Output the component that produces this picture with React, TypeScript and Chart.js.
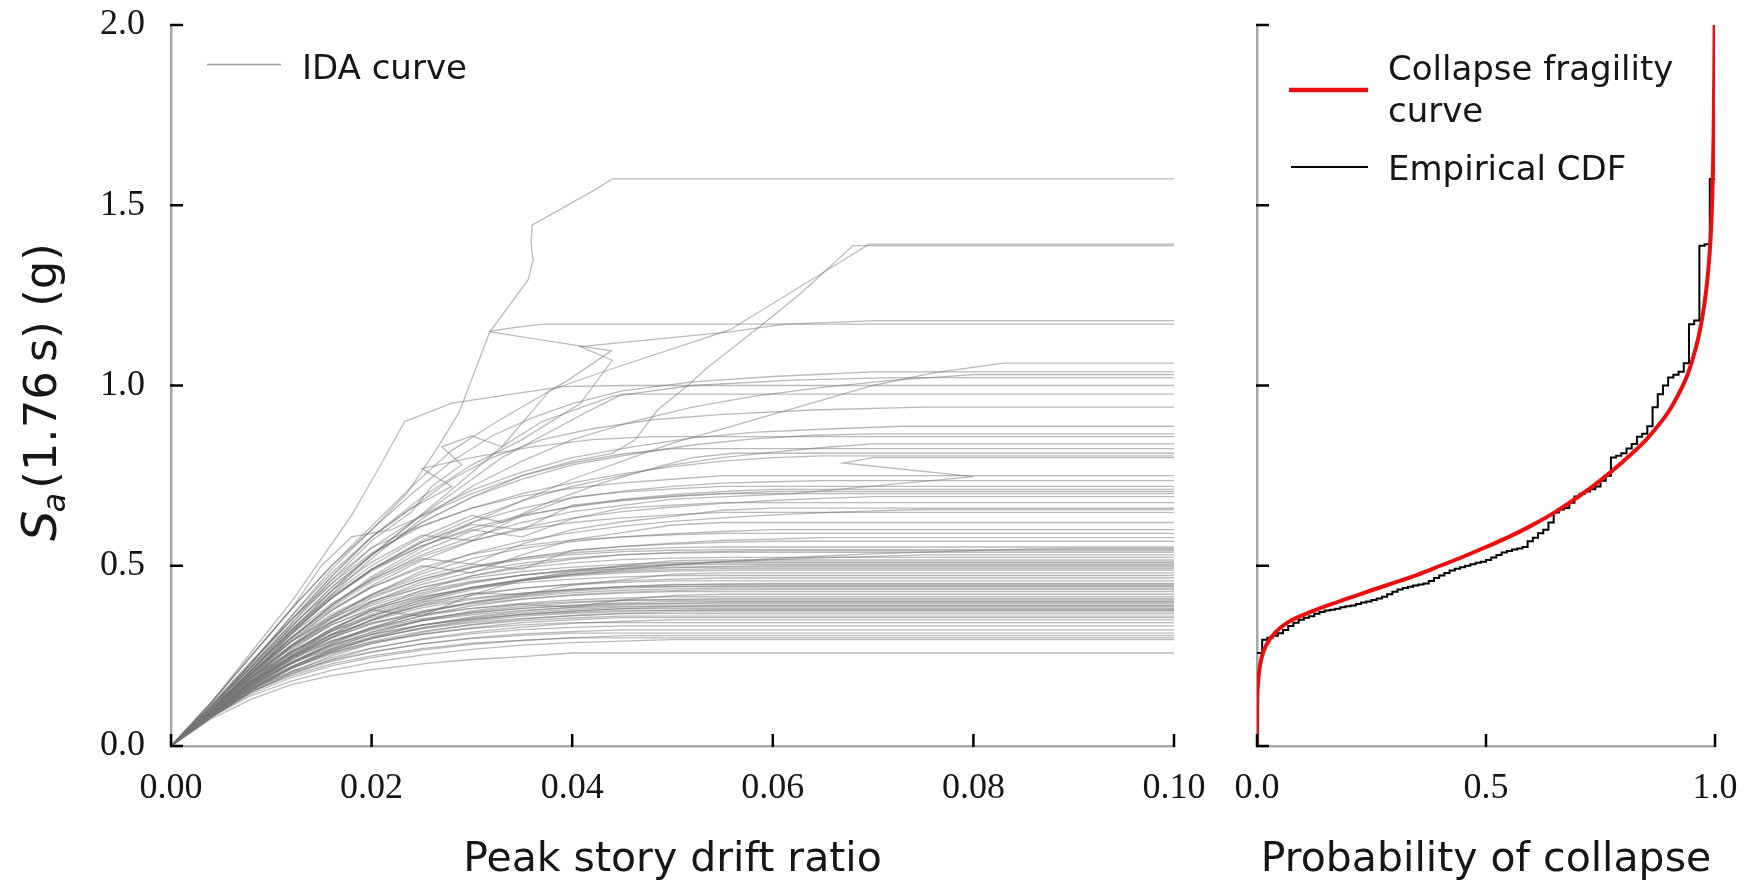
import React, { useEffect, useRef } from "react";
import { Chart, registerables } from "chart.js";

Chart.register(...registerables);

// ---------- tick labels ----------
const X_TICKS_DRIFT = [0, 0.02, 0.04, 0.06, 0.08, 0.1];
const Y_TICKS_SA = [0, 0.5, 1.0, 1.5, 2.0];
const X_TICKS_PROB = [0, 0.5, 1.0];

// ---------- collapse capacities (Sa at collapse, g), sorted ascending ----------
const CAPACITY = [
  0.258, 0.295, 0.3, 0.306, 0.313, 0.322, 0.333, 0.342, 0.35, 0.356,
  0.36, 0.367, 0.372, 0.376, 0.378, 0.381, 0.385, 0.388, 0.39, 0.394,
  0.398, 0.401, 0.405, 0.409, 0.414, 0.421, 0.428, 0.434, 0.438, 0.442,
  0.445, 0.448, 0.451, 0.458, 0.466, 0.473, 0.48, 0.487, 0.492, 0.496,
  0.5, 0.504, 0.508, 0.511, 0.516, 0.523, 0.53, 0.537, 0.541, 0.545,
  0.548, 0.552, 0.568, 0.578, 0.59, 0.6, 0.62, 0.648, 0.656, 0.66,
  0.675, 0.692, 0.7, 0.706, 0.712, 0.72, 0.736, 0.75, 0.8, 0.805,
  0.812, 0.825, 0.838, 0.858, 0.866, 0.887, 0.94, 0.976, 1.0, 1.022,
  1.03, 1.038, 1.062, 1.17, 1.18, 1.388, 1.392, 1.573,
];

// ---------- IDA curves, lower records: Sa at the drift grid, before collapse ----------
const DRIFT_GRID = [0, 0.004, 0.008, 0.012, 0.016, 0.02, 0.025, 0.03, 0.035, 0.04, 0.045, 0.05, 0.055, 0.06, 0.065, 0.07, 0.075, 0.08, 0.085, 0.09];

const IDA_GRID_SA = [
  [0, .075, .13, .17, .195, .212, .228, .24, .248],
  [0, .08, .14, .18, .21, .232, .252, .268, .28, .287, .291],
  [0, .085, .15, .195, .228, .25, .27, .285, .293],
  [0, .08, .145, .19, .222, .245, .266, .282, .293, .3],
  [0, .09, .16, .205, .238, .262, .283, .298, .307],
  [0, .08, .15, .2, .235, .26, .283, .3, .311, .317],
  [0, .085, .155, .208, .245, .272, .295, .312, .323, .329],
  [0, .09, .165, .22, .26, .288, .31, .326, .336],
  [0, .08, .15, .2, .24, .27, .297, .316, .33, .34, .346],
  [0, .09, .16, .215, .255, .285, .31, .328, .342, .35],
  [0, .085, .16, .215, .258, .29, .318, .336, .348, .355],
  [0, .09, .17, .23, .27, .3, .325, .342, .354, .361],
  [0, .08, .15, .205, .25, .283, .315, .337, .352, .362, .368],
  [0, .095, .175, .235, .28, .31, .336, .352, .364, .371],
  [0, .085, .16, .22, .265, .298, .327, .346, .36, .368, .373, .376],
  [0, .09, .17, .23, .275, .308, .335, .353, .366, .374],
  [0, .08, .155, .215, .262, .297, .328, .35, .365, .375, .381],
  [0, .09, .175, .24, .29, .322, .348, .364, .376, .383],
  [0, .085, .16, .22, .268, .303, .335, .356, .37, .379, .385, .388],
  [0, .095, .18, .245, .293, .326, .353, .37, .382, .389],
  [0, .08, .155, .215, .264, .3, .335, .358, .374, .385, .392, .396],
  [0, .09, .17, .232, .28, .316, .347, .368, .382, .391, .397],
  [0, .1, .19, .26, .31, .342, .366, .382, .393, .4],
  [0, .085, .165, .228, .278, .316, .35, .372, .387, .397, .403, .407],
  [0, .09, .175, .24, .29, .328, .36, .382, .396, .405, .411],
  [0, .08, .155, .218, .27, .31, .348, .375, .393, .385, .405, .418],
  [0, .095, .18, .248, .3, .338, .372, .394, .408, .418, .424],
  [0, .085, .165, .23, .283, .324, .362, .389, .407, .419, .427, .431],
  [0, .09, .175, .245, .3, .34, .375, .398, .414, .425, .432, .436],
  [0, .1, .19, .262, .318, .356, .389, .41, .424, .434],
  [0, .085, .165, .232, .287, .33, .37, .398, .417, .43, .438, .442, .444],
  [0, .09, .18, .252, .308, .348, .383, .407, .423, .435, .442],
  [0, .08, .16, .228, .284, .328, .37, .4, .42, .433, .442, .447, .45],
  [0, .095, .185, .26, .32, .362, .398, .422, .438, .448, .454],
  [0, .09, .175, .248, .306, .35, .39, .418, .437, .45, .458, .463],
  [0, .1, .195, .275, .336, .38, .415, .438, .453, .463, .469],
  [0, .085, .17, .243, .303, .35, .393, .424, .42, .446, .461, .477],
  [0, .095, .185, .262, .325, .372, .412, .44, .459, .472, .48, .485],
  [0, .09, .178, .255, .318, .366, .41, .44, .461, .475, .484, .489],
  [0, .1, .2, .28, .343, .39, .43, .457, .474, .485, .492],
  [0, .085, .17, .245, .31, .36, .405, .437, .46, .476, .487, .494, .498],
  [0, .095, .19, .27, .335, .383, .425, .454, .474, .488, .497, .502],
  [0, .09, .18, .26, .325, .376, .42, .452, .474, .489, .499, .505],
  [0, .105, .205, .29, .355, .402, .44, .466, .484, .496, .504, .509],
  [0, .09, .178, .258, .325, .378, .36, .42, .46, .484, .5, .514],
  [0, .1, .195, .278, .345, .395, .44, .472, .494, .508, .517, .521],
  [0, .09, .175, .25, .31, .36, .405, .44, .463, .48, .493, .503, .511, .517, .522, .526],
  [0, .095, .19, .275, .345, .4, .448, .483, .507, .522, .531, .535],
  [0, .085, .17, .25, .32, .378, .432, .472, .5, .518, .53, .537, .54],
  [0, .1, .2, .29, .36, .415, .462, .495, .517, .531, .539, .543],
  [0, .085, .165, .24, .3, .35, .4, .433, .458, .476, .49, .502, .512, .52, .527, .533, .538, .542, .546],
  [0, .095, .19, .278, .352, .41, .462, .498, .521, .536, .545, .55],
  [0, .1, .2, .29, .365, .42, .47, .505, .49, .543, .553, .56, .565],
  [0, .09, .18, .265, .34, .4, .455, .495, .522, .541, .554, .563, .57, .574],
  [0, .1, .205, .3, .38, .44, .495, .532, .556, .571, .58, .586],
  [0, .095, .19, .28, .36, .42, .478, .52, .548, .567, .58, .589, .595],
  [0, .1, .2, .295, .375, .44, .5, .48, .53, .572, .592, .613],
  [0, .105, .21, .31, .395, .462, .525, .57, .6, .62, .633, .641],
  [0, .09, .185, .275, .355, .42, .485, .534, .568, .592, .61, .623, .633, .641, .647, .652],
  [0, .1, .205, .3, .385, .455, .52, .505, .56, .6, .622, .637, .654],
  [0, .11, .22, .325, .415, .49, .555, .6, .58, .63, .66, .668],
  [0, .095, .195, .29, .375, .445, .515, .568, .605, .632, .65, .663, .673, .681, .687],
  [0, .1, .21, .315, .41, .49, .565, .615, .6, .668, .683, .693],
  [0, .105, .215, .32, .41, .485, .555, .605, .64, .664, .68, .692, .7],
  [0, .1, .2, .3, .39, .465, .54, .597, .637, .665, .684, .697, .706],
  [0, .11, .225, .335, .43, .51, .585, .57, .64, .69, .704, .713],
  [0, .1, .21, .315, .41, .49, .565, .62, .66, .688, .707, .72, .729, .733],
  [0, .115, .235, .35, .45, .535, .61, .66, .693, .715, .73, .74],
];

// ---------- IDA curves, upper records: explicit (drift, Sa) pairs up to collapse ----------
const IDA_TOP_PATHS = [
  [0, 0, .004, .1, .008, .2, .012, .3, .016, .39, .02, .46, .025, .53, .03, .58, .035, .62, .04, .65, .05, .685, .062, .7, .08, .747, .067, .785, .07, .8],
  [0, 0, .004, .11, .008, .23, .012, .35, .016, .46, .02, .55, .024, .6, .027, .63, .03, .66, .035, .7, .04, .73, .045, .755, .05, .775, .055, .79, .06, .8, .065, .805],
  [0, 0, .004, .1, .008, .21, .012, .32, .016, .42, .02, .5, .025, .58, .03, .64, .033, .62, .038, .68, .043, .73, .048, .77, .052, .8, .056, .812],
  [0, 0, .004, .12, .008, .25, .012, .38, .015, .5, .018, .58, .022, .6, .026, .65, .03, .7, .035, .75, .04, .785, .045, .81, .05, .825],
  [0, 0, .004, .1, .008, .2, .012, .31, .016, .41, .02, .49, .025, .57, .03, .63, .035, .68, .04, .72, .045, .75, .05, .78, .055, .8, .06, .815, .065, .828, .07, .838],
  [0, 0, .004, .11, .008, .23, .012, .36, .016, .48, .02, .58, .024, .66, .028, .72, .025, .77, .03, .8, .036, .83, .042, .85, .048, .858],
  [0, 0, .004, .1, .008, .21, .012, .33, .016, .44, .02, .53, .025, .62, .03, .69, .035, .74, .04, .78, .046, .81, .052, .835, .058, .852, .064, .862, .07, .866],
  [0, 0, .004, .105, .008, .22, .012, .34, .016, .45, .02, .55, .025, .64, .03, .71, .035, .76, .04, .8, .046, .83, .052, .855, .058, .87, .066, .88, .073, .887],
  [0, 0, .004, .11, .008, .23, .012, .35, .016, .47, .02, .58, .024, .66, .028, .74, .032, .8, .037, .85, .042, .88, .048, .905, .055, .92, .064, .932, .075, .94],
  [0, 0, .004, .1, .008, .21, .012, .32, .016, .43, .02, .53, .025, .64, .029, .72, .033, .8, .037, .86, .041, .92, .045, .976],
  [0, 0, .004, .12, .008, .26, .012, .4, .015, .52, .018, .64, .0205, .76, .0233, .9, .028, .951, .039, .997, .045, 1.0],
  [0, 0, .004, .11, .008, .22, .012, .34, .016, .46, .02, .57, .024, .65, .026, .72, .029, .78, .027, .83, .03, .86, .033, .83, .037, .9, .044, .97, .052, 1.0, .062, 1.015, .072, 1.022],
  [0, 0, .004, .1, .008, .2, .012, .31, .016, .42, .02, .52, .025, .63, .03, .72, .035, .79, .04, .85, .046, .9, .052, .94, .058, .97, .065, .995, .072, 1.015, .08, 1.03],
  [0, 0, .004, .11, .008, .23, .012, .36, .016, .49, .02, .6, .024, .7, .028, .79, .032, .86, .036, .91, .04, .95, .045, .985, .052, 1.01, .06, 1.025, .07, 1.038],
  [0, 0, .004, .1, .008, .2, .012, .3, .016, .39, .02, .47, .025, .55, .03, .62, .035, .68, .04, .74, .045, .79, .05, .84, .055, .88, .06, .92, .065, .96, .07, 1.0, .076, 1.035, .083, 1.062],
  [0, 0, .004, .12, .008, .25, .012, .38, .016, .5, .02, .6, .0235, .7, .0264, .82, .0287, .924, .0318, 1.15, .034, 1.16, .037, 1.17],
  [0, 0, .004, .11, .008, .23, .012, .35, .016, .47, .02, .58, .025, .69, .03, .78, .035, .85, .0408, .95, .044, 1.07, .0408, 1.108, .0557, 1.149, .0612, 1.17, .0703, 1.18],
  [0, 0, .004, .11, .008, .22, .012, .33, .016, .44, .02, .53, .025, .62, .03, .69, .035, .75, .04, .79, .044, .812, .0463, .85, .0485, .932, .0514, .997, .0534, 1.048, .0589, 1.168, .0628, 1.256, .068, 1.388],
  [0, 0, .004, .1, .008, .21, .012, .32, .016, .43, .02, .53, .0275, .7, .033, .83, .0378, .987, .0436, 1.043, .0557, 1.154, .066, 1.33, .0696, 1.392],
  [0, 0, .004, .12, .008, .25, .012, .38, .016, .5, .02, .61, .024, .72, .028, .82, .0325, .9, .0396, 1.015, .0439, 1.096, .0318, 1.149, .0356, 1.293, .0361, 1.348, .0359, 1.394, .036, 1.445, .0422, 1.542, .044, 1.573],
];

// ---------- collapse fragility curve (probability, Sa) ----------
const FRAGILITY_P = [0, 0.0003, 0.0015, 0.005, 0.01, 0.02, 0.04, 0.07, 0.1, 0.15, 0.2, 0.25, 0.3, 0.35, 0.4, 0.45, 0.5, 0.55, 0.6, 0.65, 0.7, 0.75, 0.8, 0.85, 0.88, 0.9, 0.92, 0.94, 0.955, 0.965, 0.975, 0.983, 0.99, 0.994, 0.997, 0.9985, 0.9995];
const FRAGILITY_SA = [0, 0.1, 0.16, 0.21, 0.245, 0.28, 0.315, 0.345, 0.363, 0.388, 0.41, 0.432, 0.453, 0.475, 0.5, 0.525, 0.552, 0.58, 0.612, 0.648, 0.69, 0.737, 0.79, 0.85, 0.895, 0.93, 0.975, 1.03, 1.09, 1.14, 1.21, 1.29, 1.4, 1.52, 1.7, 1.88, 2.05];

// ---------- styling ----------
const SANS = '"DejaVu Sans", sans-serif';
const SERIF = '"Liberation Serif", serif';
const TEXT = "#161616";
const AXIS_GRAY = "#a8a8a8";
const IDA_COLOR = "rgba(118,118,118,0.5)";
const RED = "rgb(234,14,14)";

const LEFT_W = 1216;
const RIGHT_W = 535;
const H = 886;

function drawInwardTicks(chart: any, xTicks: number[], yTicks: number[]) {
  const { ctx, chartArea, scales } = chart;
  ctx.save();
  ctx.strokeStyle = "#000";
  ctx.lineWidth = 2.5;
  ctx.beginPath();
  for (const v of xTicks) {
    const px = scales.x.getPixelForValue(v);
    ctx.moveTo(px, chartArea.bottom + 1);
    ctx.lineTo(px, chartArea.bottom - 12);
  }
  for (const v of yTicks) {
    const py = scales.y.getPixelForValue(v);
    ctx.moveTo(chartArea.left - 1, py);
    ctx.lineTo(chartArea.left + 12, py);
  }
  ctx.stroke();
  ctx.restore();
}

const leftDecor = {
  id: "leftDecor",
  afterDraw(chart: any) {
    const { ctx } = chart;
    drawInwardTicks(chart, X_TICKS_DRIFT, Y_TICKS_SA);
    ctx.save();
    // legend
    ctx.strokeStyle = "rgba(150,150,150,0.9)";
    ctx.lineWidth = 1.4;
    ctx.beginPath();
    ctx.moveTo(207, 64.5);
    ctx.lineTo(281, 64.5);
    ctx.stroke();
    ctx.fillStyle = TEXT;
    ctx.font = `34px ${SANS}`;
    ctx.textBaseline = "alphabetic";
    ctx.textAlign = "left";
    ctx.fillText("IDA curve", 302, 79);
    // y title: S_a(1.76 s) (g)
    const big = `45px ${SANS}`;
    const ital = `italic 48px ${SANS}`;
    const sub = `italic 32px ${SANS}`;
    const rest = "(1.76\u2009s) (g)";
    ctx.font = ital;
    const wS = ctx.measureText("S").width;
    ctx.font = sub;
    const wa = ctx.measureText("a").width;
    ctx.font = big;
    const wr = ctx.measureText(rest).width;
    const total = wS + wa + 2 + wr;
    ctx.translate(56, 392);
    ctx.rotate(-Math.PI / 2);
    let x = -total / 2;
    ctx.font = ital;
    ctx.fillText("S", x, 0);
    x += wS;
    ctx.font = sub;
    ctx.fillText("a", x - 2, 9);
    x += wa + 2;
    ctx.font = big;
    ctx.fillText(rest, x, 0);
    ctx.restore();
  },
};

const rightDecor = {
  id: "rightDecor",
  afterDraw(chart: any) {
    const { ctx } = chart;
    drawInwardTicks(chart, X_TICKS_PROB, Y_TICKS_SA);
    ctx.save();
    ctx.strokeStyle = RED;
    ctx.lineWidth = 4.5;
    ctx.beginPath();
    ctx.moveTo(73, 90);
    ctx.lineTo(152, 90);
    ctx.stroke();
    ctx.strokeStyle = "#000";
    ctx.lineWidth = 2;
    ctx.beginPath();
    ctx.moveTo(75, 167);
    ctx.lineTo(152, 167);
    ctx.stroke();
    ctx.fillStyle = TEXT;
    ctx.font = `34px ${SANS}`;
    ctx.textBaseline = "alphabetic";
    ctx.textAlign = "left";
    ctx.fillText("Collapse fragility", 172, 80);
    ctx.fillText("curve", 172, 122);
    ctx.fillText("Empirical CDF", 172, 180);
    ctx.restore();
  },
};

function idaDatasets() {
  return CAPACITY.map((cap, i) => {
    const pts: { x: number; y: number }[] = [];
    if (i < IDA_GRID_SA.length) {
      const sa = IDA_GRID_SA[i];
      sa.forEach((s, k) => pts.push({ x: DRIFT_GRID[k], y: s }));
      pts.push({ x: DRIFT_GRID[sa.length], y: cap });
    } else {
      const p = IDA_TOP_PATHS[i - IDA_GRID_SA.length];
      for (let k = 0; k < p.length; k += 2) pts.push({ x: p[k], y: p[k + 1] });
    }
    pts.push({ x: 0.1, y: cap });
    return {
      label: i === 0 ? "IDA curve" : "",
      data: pts,
      showLine: true,
      borderColor: IDA_COLOR,
      borderWidth: 1.3,
      pointRadius: 0,
      tension: 0,
    };
  });
}

function ecdfPoints() {
  const n = CAPACITY.length;
  const pts: { x: number; y: number }[] = [];
  CAPACITY.forEach((c, i) => {
    pts.push({ x: i / n, y: c });
    pts.push({ x: (i + 1) / n, y: c });
  });
  return pts;
}

const tickFont = { family: SERIF, size: 36 };

function xAxis(min: number, max: number, ticks: number[], digits: number, title: string) {
  return {
    type: "linear",
    min,
    max,
    border: { display: true, color: AXIS_GRAY, width: 2.5 },
    grid: { display: true, drawOnChartArea: false, drawTicks: false },
    afterBuildTicks: (s: any) => { s.ticks = ticks.map((v) => ({ value: v })); },
    afterFit: (s: any) => { s.height = 140; s.paddingLeft = 0; s.paddingRight = 0; },
    ticks: {
      font: tickFont,
      color: TEXT,
      padding: 21,
      maxRotation: 0,
      autoSkip: false,
      callback: (v: any) => Number(v).toFixed(digits),
    },
    title: {
      display: true,
      text: title,
      font: { family: SANS, size: 41, lineHeight: 1 },
      color: TEXT,
      padding: { top: 0, bottom: 5 },
    },
  };
}

function yAxis(width: number, showLabels: boolean) {
  return {
    type: "linear",
    min: 0,
    max: 2,
    border: { display: true, color: AXIS_GRAY, width: 2.5 },
    grid: { display: true, drawOnChartArea: false, drawTicks: false },
    afterBuildTicks: (s: any) => { s.ticks = Y_TICKS_SA.map((v) => ({ value: v })); },
    afterFit: (s: any) => { s.width = width; s.paddingTop = 0; s.paddingBottom = 0; },
    ticks: {
      display: showLabels,
      font: tickFont,
      color: TEXT,
      padding: 26,
      callback: (v: any) => Number(v).toFixed(1),
    },
  };
}

export default function App() {
  const leftRef = useRef<HTMLCanvasElement | null>(null);
  const rightRef = useRef<HTMLCanvasElement | null>(null);

  useEffect(() => {
    document.body.style.margin = "0";
    document.body.style.background = "#fff";
    const left = new Chart(leftRef.current as HTMLCanvasElement, {
      type: "scatter",
      data: { datasets: idaDatasets() as any },
      options: {
        animation: false,
        responsive: false,
        devicePixelRatio: 1,
        layout: { padding: { left: 0, right: 42, top: 25, bottom: 0 } },
        plugins: { legend: { display: false }, tooltip: { enabled: false } },
        scales: {
          x: xAxis(0, 0.1, X_TICKS_DRIFT, 2, "Peak story drift ratio"),
          y: yAxis(171, true),
        },
      } as any,
      plugins: [leftDecor],
    });

    const right = new Chart(rightRef.current as HTMLCanvasElement, {
      type: "scatter",
      data: {
        datasets: [
          {
            label: "Collapse fragility curve",
            data: FRAGILITY_P.map((p, i) => ({ x: p, y: FRAGILITY_SA[i] })),
            showLine: true,
            borderColor: RED,
            borderWidth: 4,
            pointRadius: 0,
            cubicInterpolationMode: "monotone",
          },
          {
            label: "Empirical CDF",
            data: ecdfPoints(),
            showLine: true,
            borderColor: "#000",
            borderWidth: 2,
            pointRadius: 0,
            tension: 0,
          },
        ] as any,
      },
      options: {
        animation: false,
        responsive: false,
        devicePixelRatio: 1,
        layout: { padding: { left: 0, right: 36, top: 25, bottom: 0 } },
        plugins: { legend: { display: false }, tooltip: { enabled: false } },
        scales: {
          x: xAxis(0, 1, X_TICKS_PROB, 1, "Probability of collapse"),
          y: yAxis(41, false),
        },
      } as any,
      plugins: [rightDecor],
    });

    return () => {
      left.destroy();
      right.destroy();
    };
  }, []);

  return (
    <div style={{ position: "absolute", left: 0, top: 0, width: 1751, height: H, background: "#fff", overflow: "hidden" }}>
      <canvas ref={leftRef} width={LEFT_W} height={H} style={{ position: "absolute", left: 0, top: 0 }} />
      <canvas ref={rightRef} width={RIGHT_W} height={H} style={{ position: "absolute", left: LEFT_W, top: 0 }} />
    </div>
  );
}
